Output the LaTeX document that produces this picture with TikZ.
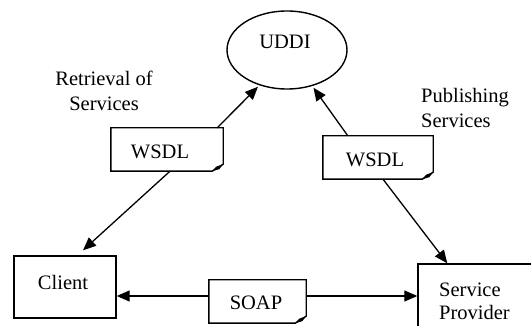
\documentclass[tikz,border=0pt]{standalone}
\usepackage{fontspec}
\setmainfont{Liberation Serif}
\usetikzlibrary{arrows.meta,shapes.geometric}

\tikzset{
  txt/.style={inner sep=0pt, font=\fontsize{20.5}{25}\selectfont},
  boxshape/.style={draw, line width=1.4pt, inner sep=0pt},
  doc/.style={inner sep=0pt},
  docline/.style={line width=1.4pt, line join=miter},
  arr/.style={line width=1.3pt, -{Triangle[length=13pt,width=11pt]}},
}

% outline of a document sheet with a curled lower right corner
\newcommand\docframe[1]{%
  \draw[docline] (#1.north west) -- (#1.north east) -- ([yshift=7pt]#1.south east)
    -- ([xshift=-11pt]#1.south east) -- (#1.south west) -- cycle;
  \fill ([xshift=-11pt]#1.south east) -- ([xshift=-7pt,yshift=4.5pt]#1.south east)
    -- ([yshift=7pt]#1.south east) -- ([xshift=-4pt,yshift=2pt]#1.south east) -- cycle;
}

\begin{document}
\begin{tikzpicture}[x=1pt,y=-1pt]
  \clip (0,0) rectangle (531,326);
  \fill[white] (0,0) rectangle (531,326);

  % registry
  \node[boxshape, ellipse, minimum width=120pt, minimum height=78pt] (uddi) at (287,50) {};
  \node[txt] (uddilbl) at (285,42) {UDDI};

  % end points
  \node[boxshape, minimum width=102pt, minimum height=62pt] (client) at (65,287) {};
  \node[txt] (clientlbl) at (63,282) {Client};
  \node[boxshape, minimum width=122pt, minimum height=80pt] (sp) at (479,304) {};
  \node[txt, align=left, anchor=west, font=\fontsize{20.5}{23}\selectfont] (splbl) at (439,301.5) {Service\\Provider};

  % documents
  \node[doc, minimum width=112pt, minimum height=43pt] (wl) at (167,149.5) {};
  \docframe{wl}
  \node[txt] (wllbl) at (160,152) {WSDL};

  \node[doc, minimum width=110pt, minimum height=43pt] (wr) at (378,157.5) {};
  \docframe{wr}
  \node[txt] (wrlbl) at (375,160) {WSDL};

  \node[doc, minimum width=97pt, minimum height=43pt] (soap) at (257.5,301.5) {};
  \docframe{soap}
  \node[txt] (soaplbl) at (256,303) {SOAP};

  % captions
  \node[txt, align=center] (retr) at (104,90.5) {Retrieval of\\Services};
  \node[txt, align=left, anchor=west] (publ) at (421,107.5) {Publishing\\Services};

  % connectors
  \coordinate (soapy) at (0,296);
  \draw[arr, shorten >=2pt] ([xshift=-6pt]wl.north east) -- (uddi.232);
  \draw[arr] ([xshift=3pt]wl.south) -- ([xshift=18pt,yshift=5pt]client.north);
  \draw[arr, shorten >=2pt] ([xshift=25pt]wr.north west) -- (uddi.305);
  \draw[arr] ([xshift=5pt]wr.south) -- ([xshift=30pt]sp.north west);
  \draw[arr] (soap.west |- soapy) -- (client.east |- soapy);
  \draw[arr] (soap.east |- soapy) -- (sp.west |- soapy);
\end{tikzpicture}
\end{document}
